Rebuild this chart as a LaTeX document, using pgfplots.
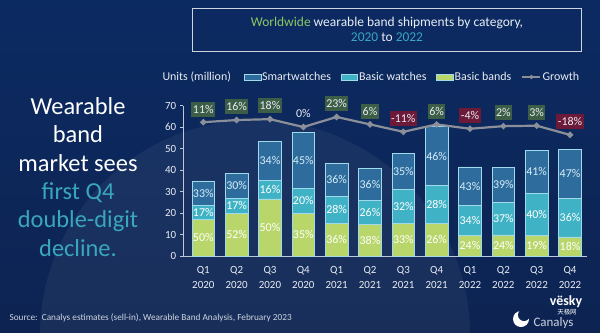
\documentclass[border=0pt]{standalone}
\usepackage{pgfplots}
\pgfplotsset{compat=1.18}
\usepackage{pgfplotstable}
\usepackage{fontspec}
\setmainfont{Carlito}
\newfontfamily\cjk{Noto Sans CJK SC}
\definecolor{bgtop}{RGB}{12,42,98}
\definecolor{bgmid}{RGB}{17,52,110}
\definecolor{bgbot}{RGB}{13,36,82}
\definecolor{smart}{RGB}{46,108,158}
\definecolor{basicw}{RGB}{64,178,197}
\definecolor{bands}{RGB}{184,214,106}
\definecolor{edge}{RGB}{160,218,235}
\definecolor{growth}{RGB}{138,143,153}
\definecolor{gbox}{RGB}{60,94,70}
\definecolor{rbox}{RGB}{108,26,56}
\definecolor{titlegreen}{RGB}{140,198,98}
\definecolor{teal}{RGB}{58,166,190}
\definecolor{softwhite}{RGB}{232,237,244}
\definecolor{smarttext}{RGB}{215,236,246}
\definecolor{axisgray}{RGB}{190,200,214}
\definecolor{srcgray}{RGB}{205,212,224}

\pgfplotstableread{
x bands watches smart pb pw ps
0  17.1  6.5 11.4 50 17 33
1  19.9  7.0 11.7 52 17 30
2  26.6  8.7 18.0 50 16 34
3  19.9 11.7 25.9 35 20 45
4  15.3 12.4 15.6 36 28 36
5  14.8 10.9 15.0 38 26 36
6  15.3 15.8 16.5 33 32 35
7  15.3 17.5 27.5 26 28 46
8   9.5 14.2 17.8 24 34 43
9   9.8 15.3 16.1 24 37 39
10  9.5 19.8 20.0 19 40 41
11  8.9 17.8 23.1 18 36 47
}\shipments
% middle of each stacked segment, for the share labels
\pgfplotstablecreatecol[create col/expr={\thisrow{bands}/2}]{mb}{\shipments}
\pgfplotstablecreatecol[create col/expr={\thisrow{bands}+\thisrow{watches}/2}]{mw}{\shipments}
\pgfplotstablecreatecol[create col/expr={\thisrow{bands}+\thisrow{watches}+\thisrow{smart}/2}]{ms}{\shipments}

\pgfplotstableread{
x g
0 11
1 16
2 18
3 0
4 23
5 6
6 -11
7 6
8 -4
9 2
10 3
11 -18
}\growthdata

\pgfplotsset{
  frame/.style={at={(183.3bp,-256bp)}, anchor=south west, scale only axis,
    width=403.4bp, height=150.3bp, xmin=-0.6, xmax=11.5},
  sharelabel/.style={
    draw=none,
    point meta=explicit symbolic,
    nodes near coords={\pgfplotspointmeta\%},
    nodes near coords align={anchor=center},
    every node near coord/.append style={font=\fontsize{12}{13}\selectfont, inner sep=0pt}},
  growthlabel/.style={
    point meta=y,
    nodes near coords={\pgfmathprintnumber{\pgfplotspointmeta}\%},
    nodes near coords align={anchor=south},
    every node near coord/.append style={yshift=5.5bp,
      font=\fontsize{12}{14}\selectfont, text=softwhite,
      inner xsep=1.5bp, inner ysep=0bp, minimum height=15bp}},
}

\begin{document}
\begin{tikzpicture}
\shade[top color=bgtop, middle color=bgmid, bottom color=bgbot] (0,0) rectangle (600bp,-333bp);
\path[use as bounding box] (0,0) rectangle (600bp,-333bp);
\begin{scope}
\clip (0,0) rectangle (600bp,-333bp);
\fill[white, opacity=0.05] (255bp,-335bp) circle (215bp);
\end{scope}

% title box
\draw[srcgray, line width=0.8bp] (192.7bp,-8.3bp) rectangle (581.7bp,-51bp);
\node[align=center, text=softwhite, font=\fontsize{13.5}{14.5}\selectfont] at (387bp,-29.5bp)
  {\textcolor{titlegreen}{Worldwide} wearable band shipments by category,\\
   \textcolor{teal}{2020} to \textcolor{teal}{2022}};

% left message
\node[align=center, text=white, font=\fontsize{24.5}{28.4}\selectfont] at (78bp,-177bp)
  {Wearable\\band\\market sees\\\textcolor{teal}{first Q4}\\\textcolor{teal}{double-digit}\\\textcolor{teal}{decline.}};

\node[anchor=west, text=softwhite, font=\fontsize{12}{14}\selectfont] at (159bp,-77bp) {Units (million)};

\node[anchor=west, text=srcgray, font=\fontsize{9.3}{11}\selectfont] at (6bp,-317.7bp)
  {Source:\ \ Canalys estimates (sell-in), Wearable Band Analysis, February 2023};

% logo and watermark
\fill[white] (521bp,-319bp) circle (8bp);
\fill[bgbot] (524bp,-315bp) circle (6bp);
\node[anchor=west, text=srcgray, font=\fontsize{13}{15}\selectfont] at (530bp,-323bp) {Canalys};
\node[text=white, font=\bfseries\fontsize{14}{15}\selectfont] at (566bp,-302bp) {vësky};
\node[text=white, font=\cjk\fontsize{6.5}{7}\selectfont] at (567bp,-312.5bp) {天极网};

\begin{axis}[frame, ymin=0, ymax=70, ybar stacked, bar width=22.5bp,
  axis lines*=left, axis line style={draw=axisgray, line width=0.8bp},
  /pgf/number format/assume math mode=true,
  xtick={0,...,11},
  xticklabels={{Q1\\2020},{Q2\\2020},{Q3\\2020},{Q4\\2020},{Q1\\2021},{Q2\\2021},{Q3\\2021},{Q4\\2021},{Q1\\2022},{Q2\\2022},{Q3\\2022},{Q4\\2022}},
  x tick label style={align=center, font=\fontsize{11}{15}\selectfont, text=softwhite, yshift=-3.5bp},
  xtick style={draw=none},
  ytick={0,10,...,70},
  y tick label style={font=\fontsize{11}{13}\selectfont, text=softwhite},
  ytick style={draw=axisgray, line width=0.8bp},
  tick align=outside, major tick length=3.5bp,
  legend style={at={(0.150,1.191)}, anchor=west, draw=none, fill=none,
    font=\fontsize{12}{14}\selectfont, text=softwhite, inner sep=0pt,
    nodes={inner sep=1bp},
    /tikz/every even column/.append style={column sep=9bp}},
  legend columns=4, legend cell align=left,
]
\addplot[forget plot, fill=bands, draw=edge, line width=0.7bp] table[x=x, y=bands]{\shipments};
\addplot[forget plot, fill=basicw, draw=edge, line width=0.7bp] table[x=x, y=watches]{\shipments};
\addplot[forget plot, fill=smart, draw=edge, line width=0.7bp] table[x=x, y=smart]{\shipments};

\addlegendimage{legend image code/.code={\draw[fill=smart, draw=edge, line width=0.7bp] (0bp,-3bp) rectangle (16.5bp,3bp);}}
\addlegendentry{Smartwatches}
\addlegendimage{legend image code/.code={\draw[fill=basicw, draw=edge, line width=0.7bp] (0bp,-3bp) rectangle (16.5bp,3bp);}}
\addlegendentry{Basic watches}
\addlegendimage{legend image code/.code={\draw[fill=bands, draw=edge, line width=0.7bp] (0bp,-3bp) rectangle (16.5bp,3bp);}}
\addlegendentry{Basic bands}
\addlegendimage{legend image code/.code={\draw[growth, line width=2.2bp] (0bp,0bp) -- (18bp,0bp); \fill[growth] (9bp,0bp) circle (1.9bp);}}
\addlegendentry{Growth}
\end{axis}

% share labels at the middle of each segment
\begin{axis}[frame, ymin=0, ymax=70, hide axis, clip=false]
\addplot[sharelabel, every node near coord/.append style={text=white}] table[x=x, y=mb, meta=pb]{\shipments};
\addplot[sharelabel, every node near coord/.append style={text=white}] table[x=x, y=mw, meta=pw]{\shipments};
\addplot[sharelabel, every node near coord/.append style={text=smarttext}] table[x=x, y=ms, meta=ps]{\shipments};
\end{axis}

% growth line on its own scale
\begin{axis}[frame, ymin=-295.2, ymax=48.8, hide axis, clip=false,
  /pgf/number format/assume math mode=true]
\addplot[growth, line width=2.2bp, mark=*, mark size=1.9bp, mark options={fill=growth, draw=growth}]
  table[x=x, y=g]{\growthdata};
\addplot[draw=none, restrict y to domain=0.5:100, growthlabel,
  every node near coord/.append style={fill=gbox}] table[x=x, y=g]{\growthdata};
\addplot[draw=none, restrict y to domain=-100:-0.5, growthlabel,
  every node near coord/.append style={fill=rbox}] table[x=x, y=g]{\growthdata};
\addplot[draw=none, restrict y to domain=-0.5:0.5, growthlabel] table[x=x, y=g]{\growthdata};
\end{axis}
\end{tikzpicture}
\end{document}
